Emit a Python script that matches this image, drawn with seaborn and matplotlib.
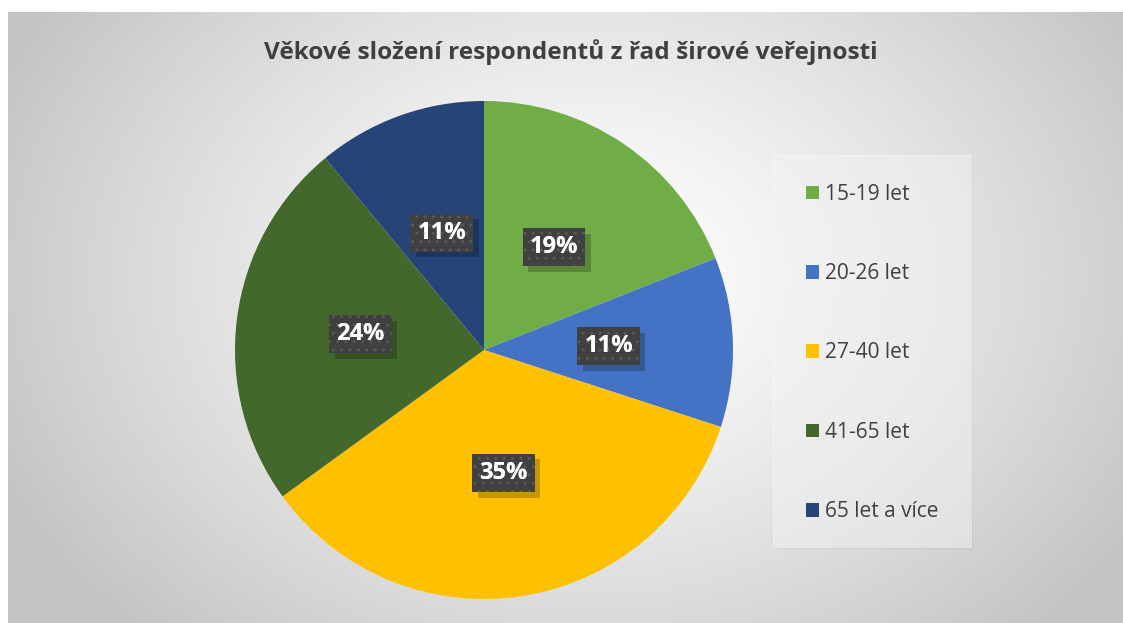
import numpy as np
import matplotlib
matplotlib.use("Agg")
import matplotlib.pyplot as plt
import matplotlib.patheffects as pe
from matplotlib.patches import Rectangle, Patch
import seaborn as sns

categories = ["15-19 let", "20-26 let", "27-40 let", "41-65 let", "65 let a více"]
values = [19, 11, 35, 24, 11]
colors = ["#70AD47", "#4472C4", "#FFC000", "#43682B", "#264478"]
title = "Věkové složení respondentů z řad širové veřejnosti"

sns.set_theme(style="white")
plt.rcParams["font.family"] = ["Open Sans", "DejaVu Sans"]

W, H = 1123, 623
fig = plt.figure(figsize=(W / 100, H / 100), dpi=100)
fig.patch.set_facecolor("white")

# background radial gradient
bg = fig.add_axes([8 / W, 0, 1 - 8 / W, 1 - 12 / H])
bg.set_axis_off()
yy, xx = np.mgrid[0:300, 0:540]
cx, cy = 280, 130
d = np.sqrt(((xx - cx) / 310.0) ** 2 + ((yy - cy) / 240.0) ** 2)
shade = 1.0 - 0.23 * np.clip(d, 0, 1.0) ** 1.3
bg.imshow(np.dstack([shade] * 3), aspect="auto", extent=[0, 1, 0, 1], origin="upper")
bg.set_xlim(0, 1)
bg.set_ylim(0, 1)

# legend box
box = Rectangle((773 / W, 1 - 548 / H), 199 / W, 393 / H, transform=fig.transFigure,
                facecolor="white", alpha=0.45, edgecolor="none", zorder=1)
box.set_path_effects([pe.SimplePatchShadow(offset=(1, -1), shadow_rgbFace="black", alpha=0.04), pe.Normal()])
fig.patches.append(box)

# pie
ax = fig.add_axes([235 / W, 24 / H, 498 / W, 498 / H])
wedges, texts, autotexts = ax.pie(
    values, colors=colors, startangle=90, counterclock=False,
    autopct=lambda p: f"{p:.0f}%", pctdistance=0.5, radius=1.0,
    wedgeprops=dict(linewidth=0),
    textprops=dict(color="white", fontsize=17, fontweight="bold"),
)
ax.set_xlim(-1, 1)
ax.set_ylim(-1, 1)
ax.set_aspect("equal")
for t in autotexts:
    t.set_bbox(dict(boxstyle="square,pad=0.3", facecolor="#404040",
                    edgecolor="none", linewidth=0))
    t.get_bbox_patch().set_path_effects([
        pe.SimplePatchShadow(offset=(4, -4), shadow_rgbFace="black", alpha=0.22),
        pe.Normal()])
    x, y = t.get_position()
    ov = ax.text(x, y, t.get_text(), ha="center", va="center", color="white",
                 fontsize=17, fontweight="bold", zorder=t.get_zorder() + 1)
    ov.set_bbox(dict(boxstyle="square,pad=0.3", facecolor="none",
                     edgecolor="#585858", hatch="..", linewidth=0))

# title
fig.text(571 / W, 1 - 52 / H, title, ha="center", va="center", fontsize=17.6,
         fontweight="bold", color="#404040")

# legend
handles = [Patch(facecolor=c, edgecolor="none") for c in colors]
leg = fig.legend(handles, categories, loc="upper left",
                 bbox_to_anchor=(787 / W, 1 - 165 / H), frameon=False,
                 fontsize=15, labelcolor="#404040", handlelength=0.63,
                 handleheight=0.63, handletextpad=0.3, labelspacing=2.8)

fig.savefig("out.png", dpi=100, facecolor=fig.get_facecolor())
